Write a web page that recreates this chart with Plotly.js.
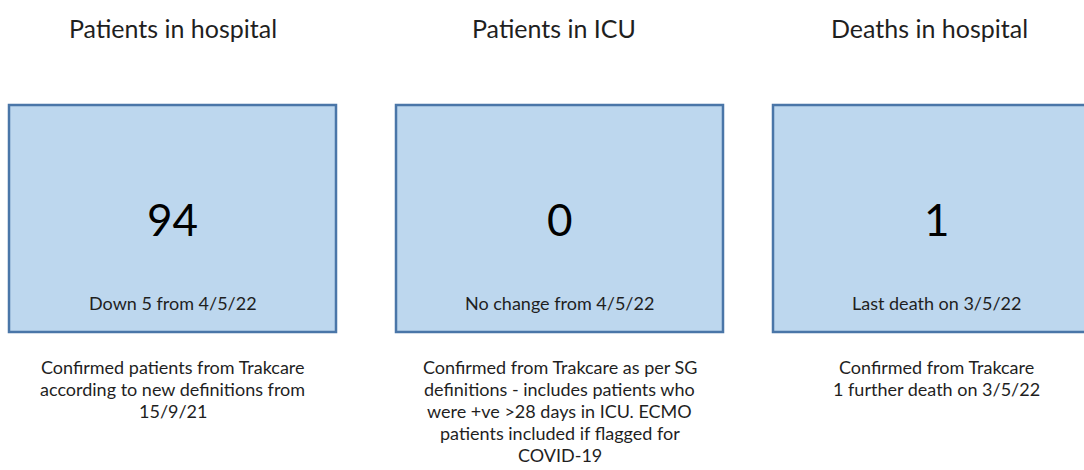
<!DOCTYPE html>
<html>
<head>
<meta charset="utf-8">
<script src="https://cdn.plot.ly/plotly-3.0.1.min.js"></script>
<style>
html,body{margin:0;padding:0;background:#fff;}
#chart{width:1084px;height:470px;}
</style>
</head>
<body>
<div id="chart"></div>
<script>
// ---- data ----
const titles = ["Patients in hospital", "Patients in ICU", "Deaths in hospital"];
const values = [94, 0, 1];
const changes = ["Down 5 from 4/5/22", "No change from 4/5/22", "Last death on 3/5/22"];
const notes = [
  ["Confirmed patients from Trakcare", "according to new definitions from", "15/9/21"],
  ["Confirmed from Trakcare as per SG", "definitions - includes patients who", "were +ve >28 days in ICU. ECMO", "patients included if flagged for", "COVID-19"],
  ["Confirmed from Trakcare", "1 further death on 3/5/22"]
];

// ---- layout (positions / styles) ----
const panelLeft = [9, 396, 773];
const panelWidth = 327;
const titleCenter = [173, 554, 929];
const boxTop = 105, boxBottom = 332;
const font = "Lato, 'Open Sans', sans-serif";
const textColor = "#1f1f1f";
const noteTop = 367, noteStep = 22;

const shapes = [];
const annotations = [];
titles.forEach((t, i) => {
  const cx = panelLeft[i] + panelWidth / 2;
  shapes.push({
    type: "rect", xref: "x", yref: "y",
    x0: panelLeft[i], x1: panelLeft[i] + panelWidth, y0: boxTop, y1: boxBottom,
    fillcolor: "#bdd7ee", line: {color: "#4a76a8", width: 2.5}
  });
  annotations.push({
    xref: "x", yref: "y", x: titleCenter[i], y: 28, text: t, showarrow: false,
    xanchor: "center", yanchor: "middle",
    font: {family: font, size: 25, color: textColor}
  });
  annotations.push({
    xref: "x", yref: "y", x: cx, y: 219, text: String(values[i]), showarrow: false,
    xanchor: "center", yanchor: "middle",
    font: {family: font, size: 44, color: "#000"}
  });
  annotations.push({
    xref: "x", yref: "y", x: cx, y: 303, text: changes[i], showarrow: false,
    xanchor: "center", yanchor: "middle",
    font: {family: font, size: 18, color: textColor}
  });
  notes[i].forEach((line, k) => {
    annotations.push({
      xref: "x", yref: "y", x: cx, y: noteTop + k * noteStep, text: line, showarrow: false,
      xanchor: "center", yanchor: "middle",
      font: {family: font, size: 18, color: textColor}
    });
  });
});

const layout = {
  width: 1084, height: 470,
  margin: {l: 0, r: 0, t: 0, b: 0, pad: 0},
  paper_bgcolor: "#ffffff", plot_bgcolor: "#ffffff",
  showlegend: false,
  xaxis: {range: [0, 1084], visible: false, fixedrange: true},
  yaxis: {range: [470, 0], visible: false, fixedrange: true},
  shapes: shapes,
  annotations: annotations
};

Plotly.newPlot("chart", [], layout, {displayModeBar: false, staticPlot: true});
</script>
</body>
</html>
